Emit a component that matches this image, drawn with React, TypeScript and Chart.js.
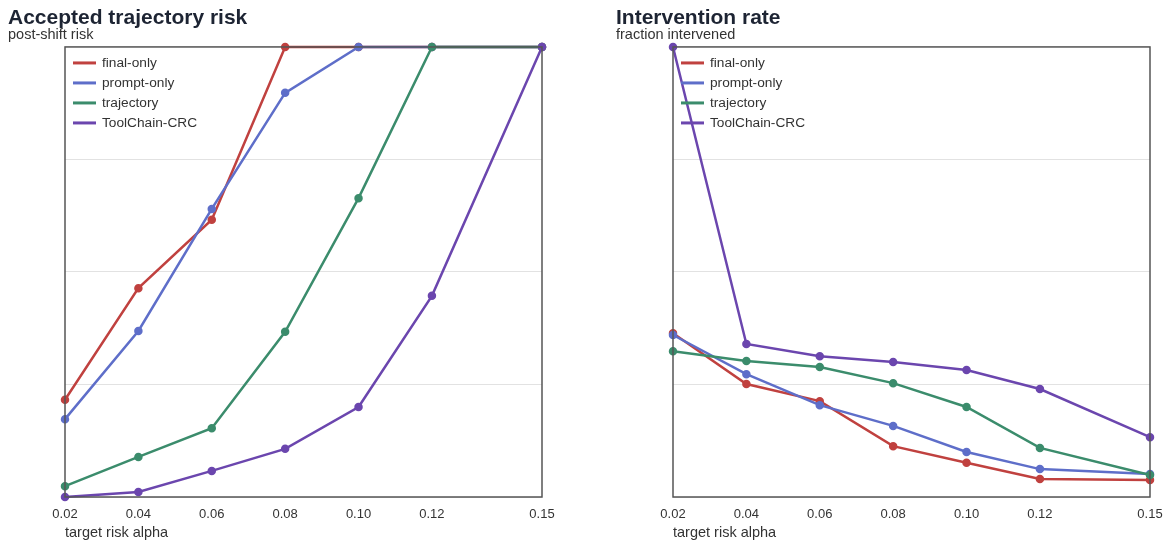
import React, { useEffect, useRef } from "react";
import { Chart, registerables } from "chart.js";

Chart.register(...registerables);

const alphas = [0.02, 0.04, 0.06, 0.08, 0.1, 0.12, 0.15];
const tickLabels = ["0.02", "0.04", "0.06", "0.08", "0.10", "0.12", "0.15"];
const seriesNames = ["final-only", "prompt-only", "trajectory", "ToolChain-CRC"];
const seriesColors = ["#c0413f", "#5e6ec9", "#3b8c6c", "#6b46ae"];

// Accepted trajectory risk (normalized post-shift risk)
const riskFinal = [0.216, 0.464, 0.616, 1, 1, 1, 1];
const riskPrompt = [0.173, 0.369, 0.64, 0.898, 1, 1, 1];
const riskTraj = [0.024, 0.089, 0.153, 0.367, 0.664, 1, 1];
const riskCRC = [0, 0.011, 0.058, 0.107, 0.2, 0.447, 1];

// Intervention rate (normalized fraction intervened)
const rateFinal = [0.364, 0.251, 0.213, 0.113, 0.076, 0.04, 0.038];
const ratePrompt = [0.36, 0.273, 0.204, 0.158, 0.1, 0.062, 0.051];
const rateTraj = [0.324, 0.302, 0.289, 0.253, 0.2, 0.109, 0.049];
const rateCRC = [1, 0.34, 0.313, 0.3, 0.282, 0.24, 0.133];

const FONT = "'Liberation Sans', Arial, sans-serif";

const frameAndLegend = {
  id: "frameAndLegend",
  afterDatasetsDraw(chart: any) {
    const { ctx, chartArea } = chart;
    ctx.save();
    ctx.strokeStyle = "#555555";
    ctx.lineWidth = 1.5;
    ctx.strokeRect(
      chartArea.left,
      chartArea.top,
      chartArea.right - chartArea.left,
      chartArea.bottom - chartArea.top
    );
    ctx.restore();
  },
  afterDraw(chart: any) {
    const { ctx, chartArea } = chart;
    ctx.save();
    ctx.font = `13.7px ${FONT}`;
    ctx.textBaseline = "middle";
    chart.data.datasets.forEach((ds: any, i: number) => {
      const y = chartArea.top + 16 + i * 20;
      ctx.strokeStyle = ds.borderColor;
      ctx.lineWidth = 3;
      ctx.beginPath();
      ctx.moveTo(chartArea.left + 8, y);
      ctx.lineTo(chartArea.left + 31, y);
      ctx.stroke();
      ctx.fillStyle = "#333333";
      ctx.fillText(ds.label, chartArea.left + 37, y);
    });
    ctx.restore();
  },
};

function makeConfig(title: string, subtitle: string, series: number[][]) {
  return {
    type: "line" as const,
    data: {
      datasets: series.map((vals, i) => ({
        label: seriesNames[i],
        data: alphas.map((a, j) => ({ x: a, y: vals[j] })),
        borderColor: seriesColors[i],
        backgroundColor: seriesColors[i],
        borderWidth: 2.5,
        pointRadius: 3,
        pointHoverRadius: 3,
        tension: 0,
        clip: 6,
        order: -i,
      })),
    },
    options: {
      animation: false,
      responsive: false,
      layout: { padding: { left: 8, right: 26, top: 0, bottom: 6 } },
      plugins: {
        legend: { display: false },
        tooltip: { enabled: false },
        title: {
          display: true,
          text: title,
          align: "start",
          color: "#1d2433",
          font: { family: FONT, size: 21, weight: "bold", lineHeight: 0.95 },
          padding: { top: 8, bottom: 0 },
        },
        subtitle: {
          display: true,
          text: subtitle,
          align: "start",
          color: "#333333",
          font: { family: FONT, size: 14.5, lineHeight: 1.0 },
          padding: { top: 0, bottom: 4.5 },
        },
      },
      scales: {
        x: {
          type: "linear",
          min: 0.02,
          max: 0.15,
          afterBuildTicks(scale: any) {
            scale.ticks = alphas.map((v) => ({ value: v }));
          },
          afterFit(scale: any) {
            scale.height = 45;
          },
          ticks: {
            autoSkip: false,
            maxRotation: 0,
            color: "#333333",
            font: { family: FONT, size: 13 },
            padding: 10,
            callback: (_v: any, idx: number) => tickLabels[idx],
          },
          grid: { display: false, drawTicks: false },
          border: { display: false },
          title: {
            display: true,
            text: "target risk alpha",
            align: "start",
            color: "#333333",
            font: { family: FONT, size: 14.5 },
            padding: { top: 0, bottom: 0 },
          },
        },
        y: {
          min: 0,
          max: 1,
          ticks: { display: false, stepSize: 0.25 },
          grid: { color: "#e2e2e2", lineWidth: 1, drawTicks: false },
          border: { display: false },
          afterFit(scale: any) {
            scale.width = 57;
          },
        },
      },
    },
    plugins: [frameAndLegend],
  };
}

function Panel(props: { title: string; subtitle: string; series: number[][]; left: number }) {
  const ref = useRef<HTMLCanvasElement | null>(null);
  useEffect(() => {
    if (!ref.current) return;
    const chart = new Chart(ref.current, makeConfig(props.title, props.subtitle, props.series) as any);
    return () => chart.destroy();
  }, []);
  return (
    <canvas
      ref={ref}
      width={568}
      height={548}
      style={{ position: "absolute", left: props.left, top: 0, width: 568, height: 548 }}
    />
  );
}

export default function App() {
  return (
    <div style={{ position: "absolute", left: 0, top: 0, width: 1169, height: 548, background: "#ffffff" }}>
      <Panel
        title="Accepted trajectory risk"
        subtitle="post-shift risk"
        series={[riskFinal, riskPrompt, riskTraj, riskCRC]}
        left={0}
      />
      <Panel
        title="Intervention rate"
        subtitle="fraction intervened"
        series={[rateFinal, ratePrompt, rateTraj, rateCRC]}
        left={608}
      />
    </div>
  );
}
